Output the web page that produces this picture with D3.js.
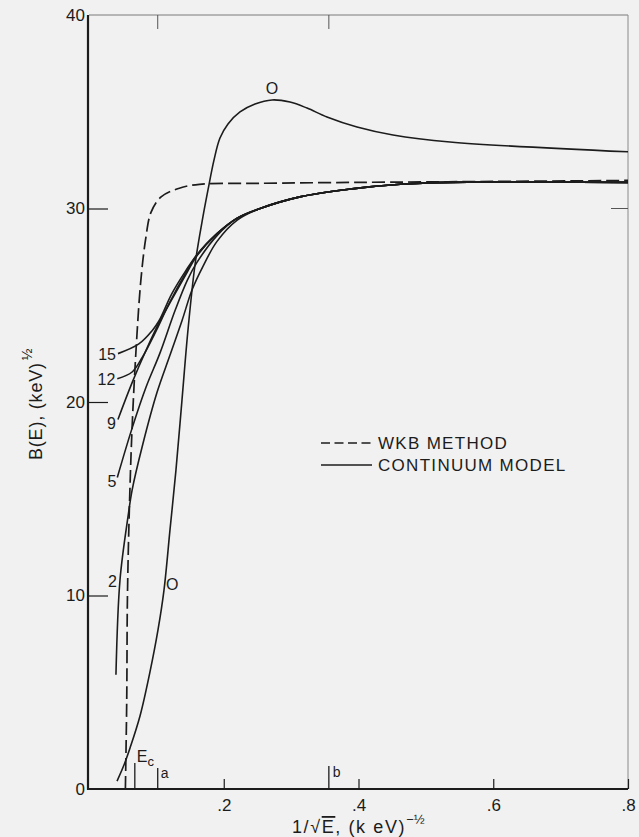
<!DOCTYPE html>
<html>
<head>
<meta charset="utf-8">
<script src="https://cdn.jsdelivr.net/npm/d3@7"></script>
<style>
  html, body { margin: 0; padding: 0; background: #f1f1f1; }
  svg { display: block; }
  text { font-family: "Liberation Sans", Arial, sans-serif; fill: #1c1c1c; }
</style>
</head>
<body>
<svg id="chart" width="639" height="837"></svg>
<script>
// ---- data: B(E) versus 1/sqrt(E) ----
const xTicks = [0.2, 0.4, 0.6, 0.8];
const yTicks = [0, 10, 20, 30, 40];

// WKB method (dashed)
const wkbX = [0.054, 0.056, 0.057, 0.060, 0.064, 0.070, 0.077, 0.084, 0.092, 0.107, 0.134, 0.164, 0.25, 0.40, 0.60, 0.80];
const wkbB = [0, 4.6, 9.8, 14.6, 18.7, 22.8, 26.3, 28.4, 29.8, 30.6, 31.05, 31.25, 31.3, 31.35, 31.4, 31.45];

// continuum model, curve "0"
const c0X = [0.0416, 0.0519, 0.0609, 0.0757, 0.0905, 0.1024, 0.1113, 0.1202, 0.1291, 0.138, 0.1469, 0.1573, 0.1677, 0.1766, 0.1855, 0.1944, 0.2063, 0.2241, 0.2464, 0.2716, 0.2983, 0.3236, 0.3532, 0.3978, 0.4512, 0.5358, 0.80];
const c0B = [0.41, 1.24, 2.12, 3.77, 6.05, 8.22, 10.28, 13.39, 16.49, 20.1, 23.72, 27.08, 29.3, 30.96, 32.5, 33.64, 34.37, 34.99, 35.4, 35.61, 35.5, 35.19, 34.73, 34.21, 33.8, 33.44, 32.93];

// continuum model, curves 2 ... 15
const c2X = [0.040, 0.046, 0.058, 0.064, 0.079, 0.101, 0.120, 0.138, 0.153, 0.169, 0.190, 0.220, 0.254, 0.313, 0.387, 0.462, 0.536, 0.80];
const c2B = [5.9, 10.8, 14.1, 15.45, 17.7, 20.5, 22.4, 24.2, 25.8, 27.0, 28.3, 29.4, 30.0, 30.6, 31.0, 31.25, 31.35, 31.35];
const c5X = [0.042, 0.064, 0.085, 0.105, 0.128, 0.146, 0.160, 0.190, 0.220, 0.254, 0.313, 0.387, 0.462, 0.536, 0.80];
const c5B = [16.1, 18.65, 20.8, 22.5, 24.75, 26.3, 27.2, 28.6, 29.5, 30.0, 30.6, 31.0, 31.25, 31.35, 31.35];
const c9X = [0.043, 0.064, 0.085, 0.104, 0.123, 0.144, 0.160, 0.190, 0.220, 0.254, 0.313, 0.387, 0.462, 0.536, 0.80];
const c9B = [19.1, 21.0, 22.7, 24.1, 25.3, 26.6, 27.55, 28.7, 29.5, 30.0, 30.6, 31.0, 31.25, 31.35, 31.35];
const c12X = [0.042, 0.064, 0.079, 0.100, 0.119, 0.144, 0.160, 0.190, 0.220, 0.254, 0.313, 0.387, 0.462, 0.536, 0.80];
const c12B = [21.2, 21.55, 22.3, 23.7, 25.1, 26.7, 27.6, 28.7, 29.5, 30.0, 30.6, 31.0, 31.25, 31.35, 31.35];
const c15X = [0.043, 0.074, 0.094, 0.104, 0.123, 0.144, 0.160, 0.190, 0.220, 0.254, 0.313, 0.387, 0.462, 0.536, 0.80];
const c15B = [22.5, 23.0, 23.7, 24.2, 25.6, 26.8, 27.6, 28.7, 29.5, 30.0, 30.6, 31.0, 31.25, 31.35, 31.35];

// marked abscissae on the x axis
const markX = [0.068, 0.102, 0.356];
const markNames = ["E", "a", "b"];

const legendNames = ["WKB METHOD", "CONTINUUM MODEL"];

// ---- scales ----
const svg = d3.select("#chart");
const x = d3.scaleLinear().domain([0, 0.8]).range([89, 628]);
const y = d3.scaleLinear().domain([0, 40]).range([789, 15]);
const ink = "#1c1c1c";

// frame: light top/right edges, heavy left/bottom axes
svg.append("line").attr("x1", x(0)).attr("x2", x(0.8)).attr("y1", y(40)).attr("y2", y(40))
  .attr("stroke", "#7a7a7a").attr("stroke-width", 1);
svg.append("line").attr("x1", x(0.8)).attr("x2", x(0.8)).attr("y1", y(40)).attr("y2", y(0))
  .attr("stroke", "#8a8a8a").attr("stroke-width", 1);
svg.append("line").attr("x1", x(0) - 1).attr("x2", x(0) - 1).attr("y1", y(40)).attr("y2", y(0) + 1)
  .attr("stroke", ink).attr("stroke-width", 2.2);
svg.append("line").attr("x1", x(0) - 2).attr("x2", x(0.8)).attr("y1", y(0)).attr("y2", y(0))
  .attr("stroke", ink).attr("stroke-width", 2.2);

// axes
const fmtX = d => d3.format(".1f")(d).replace(/^0/, "");
const xAxis = svg.append("g").attr("transform", `translate(0,${y(0)})`)
  .call(d3.axisBottom(x).tickValues(xTicks).tickSizeInner(-10).tickSizeOuter(0).tickPadding(6).tickFormat(fmtX));
const yAxis = svg.append("g").attr("transform", `translate(${x(0) - 1},0)`)
  .call(d3.axisLeft(y).tickValues(yTicks).tickSizeInner(-20).tickSizeOuter(0).tickPadding(3).tickFormat(d3.format("d")));
[xAxis, yAxis].forEach(a => {
  a.select(".domain").remove();
  a.selectAll(".tick line").attr("stroke", ink).attr("stroke-width", 1.2);
  a.selectAll(".tick text").attr("font-size", 17).attr("fill", ink)
    .style("font-family", "'Liberation Sans', Arial, sans-serif");
});
yAxis.selectAll(".tick").filter(d => d === 40 || d === 0).select("line").remove();
xAxis.selectAll(".tick text").attr("dy", "0.95em");

// right-edge tick at 30
svg.append("line").attr("x1", x(0.8) - 17).attr("x2", x(0.8)).attr("y1", y(30)).attr("y2", y(30))
  .attr("stroke", "#555").attr("stroke-width", 1);

// top-edge ticks at a and b
markX.slice(1).forEach(v => {
  svg.append("line").attr("x1", x(v)).attr("x2", x(v)).attr("y1", y(40)).attr("y2", y(40) + 14)
    .attr("stroke", "#555").attr("stroke-width", 1);
});

// marker ticks on the bottom axis: Ec, a, b
const markLen = [26, 21, 23];
markX.forEach((v, i) => {
  svg.append("line").attr("x1", x(v)).attr("x2", x(v)).attr("y1", y(0)).attr("y2", y(0) - markLen[i])
    .attr("stroke", ink).attr("stroke-width", 1.3);
});
const ec = svg.append("text").attr("x", x(markX[0]) + 2).attr("y", y(0) - 27).attr("font-size", 16);
ec.append("tspan").text(markNames[0]);
ec.append("tspan").attr("font-size", 13).attr("dy", 4).text("c");
svg.append("text").attr("x", x(markX[1]) + 3).attr("y", y(0) - 11).attr("font-size", 14).text(markNames[1]);
svg.append("text").attr("x", x(markX[2]) + 4).attr("y", y(0) - 12).attr("font-size", 14).text(markNames[2]);

// curves
const line = d3.line().x(d => x(d[0])).y(d => y(d[1])).curve(d3.curveCatmullRom.alpha(0.5));
const pairs = (xs, bs) => xs.map((v, i) => [v, bs[i]]);

svg.append("path").attr("d", line(pairs(wkbX, wkbB)))
  .attr("fill", "none").attr("stroke", ink).attr("stroke-width", 1.7).attr("stroke-dasharray", "13,5");

const continuum = [
  { name: "0", xs: c0X, bs: c0B },
  { name: "2", xs: c2X, bs: c2B },
  { name: "5", xs: c5X, bs: c5B },
  { name: "9", xs: c9X, bs: c9B },
  { name: "12", xs: c12X, bs: c12B },
  { name: "15", xs: c15X, bs: c15B }
];
continuum.forEach(c => {
  svg.append("path").attr("d", line(pairs(c.xs, c.bs)))
    .attr("fill", "none").attr("stroke", ink).attr("stroke-width", 1.6);
});

// curve labels, placed beside each curve
const lab = (txt, px, py, anchor) => svg.append("text").attr("x", px).attr("y", py)
  .attr("font-size", 16).attr("text-anchor", anchor).attr("dominant-baseline", "central").text(txt);
lab("15", x(c15X[0]) - 2, y(c15B[0]) + 1, "end");
lab("12", x(c12X[0]) - 2, y(c12B[0]) + 1, "end");
lab("9", x(c9X[0]) - 2, y(c9B[0]) + 4, "end");
lab("5", x(c5X[0]) - 1, y(c5B[0]) + 4, "end");
lab("2", x(c2X[1]) - 3, y(c2B[1]) + 1, "end");
lab("O", x(c0X[6]) + 2, y(c0B[6]) - 6, "start");
lab("O", x(c0X[19]), y(c0B[19]) - 11, "middle");

// legend
const lgX = 321, lgY = 443;
svg.append("line").attr("x1", lgX).attr("x2", lgX + 51).attr("y1", lgY).attr("y2", lgY)
  .attr("stroke", ink).attr("stroke-width", 1.6).attr("stroke-dasharray", "9,4.5");
svg.append("line").attr("x1", lgX).attr("x2", lgX + 51).attr("y1", lgY + 22).attr("y2", lgY + 22)
  .attr("stroke", ink).attr("stroke-width", 1.6);
legendNames.forEach((t, i) => {
  svg.append("text").attr("x", lgX + 57).attr("y", lgY + 22 * i).attr("dominant-baseline", "central")
    .attr("font-size", 17).attr("letter-spacing", 1.3).text(t);
});

// axis titles
const xt = svg.append("text").attr("x", 292).attr("y", 833).attr("font-size", 18).attr("letter-spacing", 1.6);
xt.append("tspan").text("1/√");
xt.append("tspan").style("text-decoration", "overline").text("E");
xt.append("tspan").text(", (k eV)");
xt.append("tspan").attr("font-size", 13).attr("dy", -9).attr("letter-spacing", 0).text("−½");

const yt = svg.append("text").attr("transform", "translate(42,460) rotate(-90)").attr("font-size", 18).attr("letter-spacing", 0.8);
yt.append("tspan").text("B(E), (keV)");
yt.append("tspan").attr("font-size", 14).attr("dy", -10).attr("dx", 2).text("½");
</script>
</body>
</html>
